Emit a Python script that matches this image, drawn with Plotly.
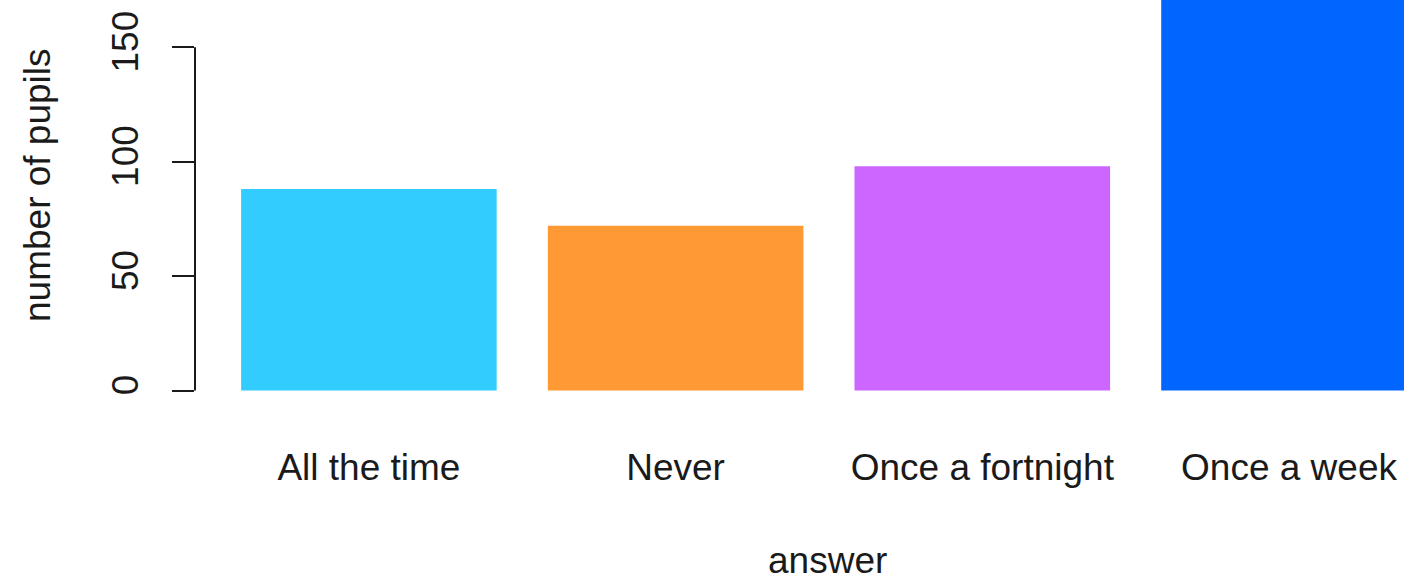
import plotly.graph_objects as go

categories = ["All the time", "Never", "Once a fortnight", "Once a week"]
pupils = [88, 72, 98, 190]
bar_colors = ["#33CCFF", "#FF9933", "#CC66FF", "#0066FF"]
y_ticks = [0, 50, 100, 150]

W, H = 1404, 580
plot_left, plot_bottom_px = 195, 400

fig = go.Figure(
    go.Bar(
        x=categories,
        y=pupils,
        marker=dict(color=bar_colors, line=dict(width=0)),
        width=1 / 1.2,
        hoverinfo="skip",
    )
)

font = dict(family="Liberation Sans, Arial, sans-serif", size=37, color="#1a1a1a")

fig.update_layout(
    width=W,
    height=H,
    margin=dict(l=plot_left, r=0, t=0, b=H - plot_bottom_px, pad=0),
    paper_bgcolor="white",
    plot_bgcolor="white",
    showlegend=False,
    font=font,
    xaxis=dict(
        type="category",
        range=[-0.567, 3.375],
        showline=False,
        showgrid=False,
        zeroline=False,
        ticks="",
        ticklabelstandoff=42,
        tickfont=font,
    ),
    yaxis=dict(
        range=[-4.15, 170.6],
        tickvals=y_ticks,
        ticktext=[str(v) for v in y_ticks],
        tickangle=-90,
        ticks="outside",
        ticklen=22,
        tickwidth=2,
        tickcolor="#1a1a1a",
        showline=False,
        showgrid=False,
        zeroline=False,
        ticklabelstandoff=19,
        tickfont=font,
    ),
    shapes=[
        dict(
            type="line",
            xref="paper",
            yref="y",
            x0=0,
            x1=0,
            y0=y_ticks[0],
            y1=y_ticks[-1],
            line=dict(color="#1a1a1a", width=2),
        )
    ],
    annotations=[
        dict(
            text="answer",
            xref="paper",
            yref="paper",
            x=(828 - plot_left) / (W - plot_left),
            y=(plot_bottom_px - 560) / plot_bottom_px,
            xanchor="center",
            yanchor="middle",
            showarrow=False,
            font=font,
        ),
        dict(
            text="number of pupils",
            xref="paper",
            yref="paper",
            x=(37 - plot_left) / (W - plot_left),
            y=(plot_bottom_px - 185) / plot_bottom_px,
            xanchor="center",
            yanchor="middle",
            textangle=-90,
            showarrow=False,
            font=font,
        ),
    ],
)

fig.write_html(
    "out.html",
    config={"displayModeBar": False},
    post_script="document.body.style.margin='0';document.body.style.overflow='hidden';",
)
